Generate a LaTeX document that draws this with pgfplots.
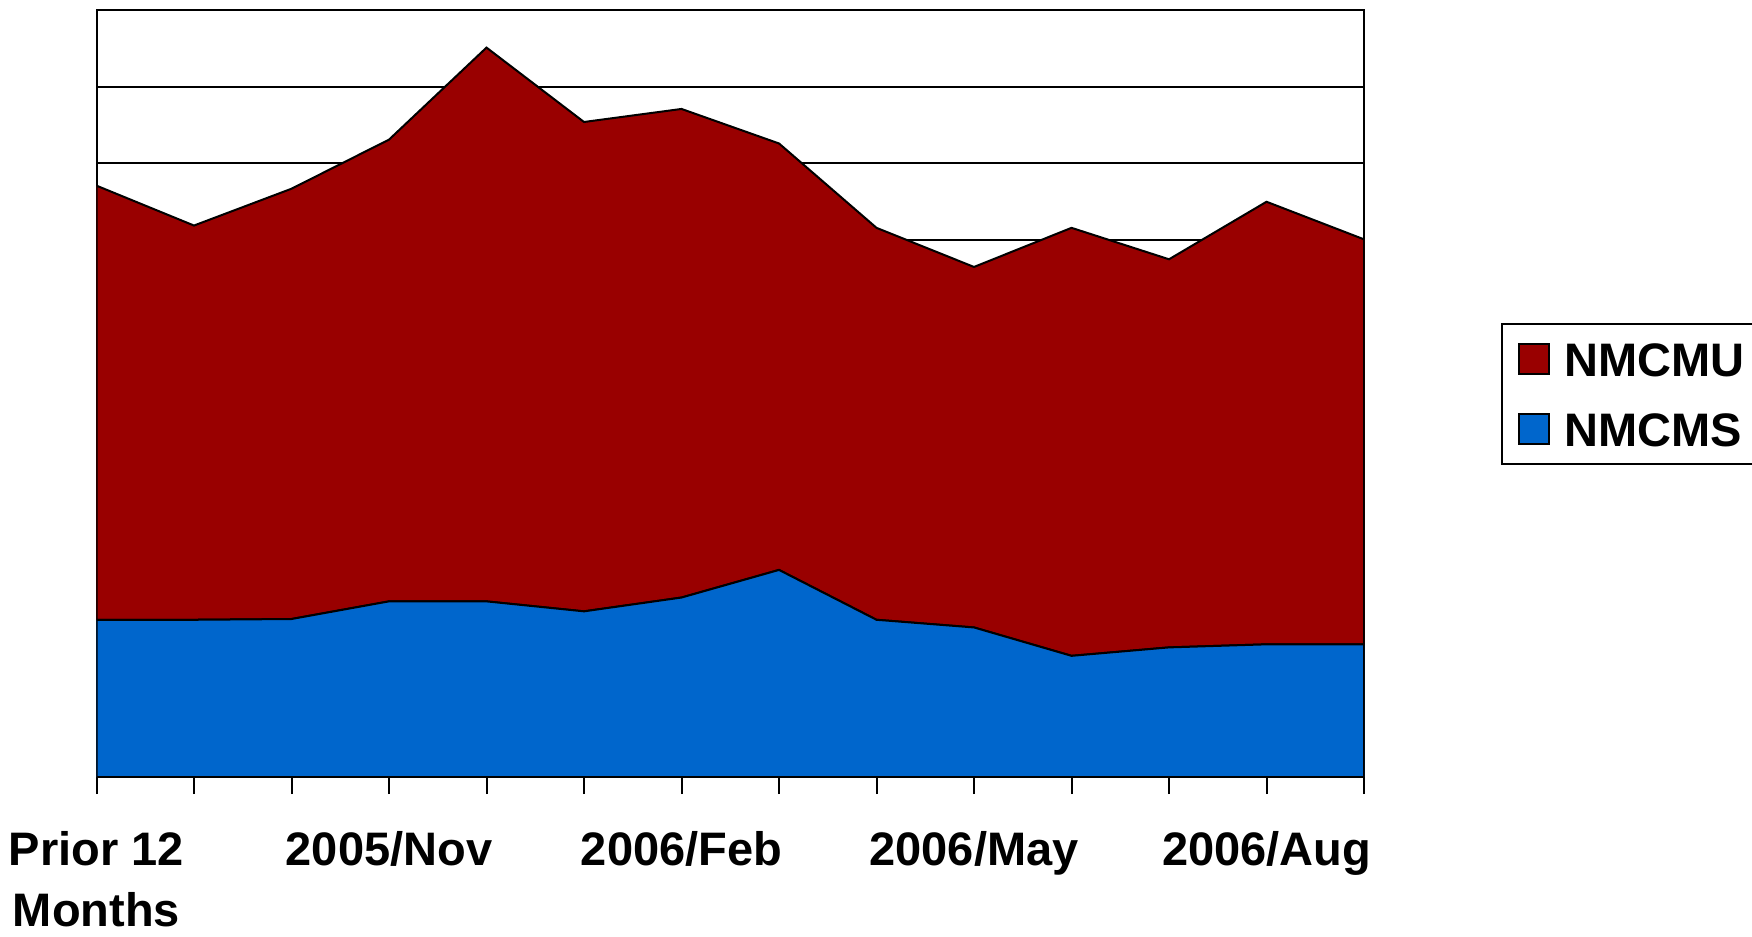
\documentclass[border=0pt]{standalone}
\usepackage{fontspec}
\setmainfont{Liberation Sans}
\usepackage{pgfplots}
\pgfplotsset{compat=1.18}
\definecolor{nmcmu}{HTML}{990000}
\definecolor{nmcms}{HTML}{0066CC}

\begin{document}
\begin{tikzpicture}
\begin{axis}[
    set layers,
    axis on top=false,
    scale only axis,
    width=316.875pt,
    height=191.75pt,
    xmin=0, xmax=13,
    ymin=0, ymax=10,
    stack plots=y,
    axis line style={line width=0.5pt},
    xtick={0,...,13},
    xticklabels={{Prior 12\\Months},,,2005/Nov,,,2006/Feb,,,2006/May,,,2006/Aug,},
    xtick pos=bottom,
    tick align=outside,
    major tick length=4.25pt,
    x tick style={line width=0.5pt, black},
    ytick={1,...,9},
    yticklabels={},
    y tick style={draw=none},
    ymajorgrids,
    grid style={line width=0.5pt, black},
    xticklabel style={font=\bfseries\fontsize{11.75}{15.2}\selectfont, align=center, anchor=north, inner sep=0pt, yshift=-9.2pt},
    reverse legend,
    legend cell align=left,
    legend image code/.code={\draw[#1, draw=black, line width=0.5pt] (0pt,-3.75pt) rectangle (7.5pt,3.75pt);},
    legend style={at={(1.1078,0.5914)}, anchor=north west, draw=black, line width=0.5pt,
        font=\bfseries\fontsize{11.75}{14}\selectfont,
        inner xsep=4pt, inner ysep=4.55pt, row sep=9.1pt, column sep=3.6pt,
        nodes={inner sep=0pt, text height=8.4pt, text depth=0pt}},
]
\addplot[fill=nmcms, draw=black, line width=0.5pt, mark=none] coordinates {
(0,2.05) (1,2.05) (2,2.06) (3,2.29) (4,2.29) (5,2.16) (6,2.34)
(7,2.70) (8,2.05) (9,1.95) (10,1.58) (11,1.69) (12,1.73) (13,1.73)
} \closedcycle;
\addlegendentry{NMCMS}
\addplot[fill=nmcmu, draw=black, line width=0.5pt, mark=none] coordinates {
(0,5.66) (1,5.14) (2,5.61) (3,6.02) (4,7.22) (5,6.38) (6,6.37)
(7,5.56) (8,5.11) (9,4.70) (10,5.58) (11,5.06) (12,5.77) (13,5.28)
} \closedcycle;
\addlegendentry{NMCMU}
\end{axis}
\pgfresetboundingbox
\path[use as bounding box] (-24.125pt,-39.75pt) rectangle (413.875pt,194.25pt);
\end{tikzpicture}
\end{document}
